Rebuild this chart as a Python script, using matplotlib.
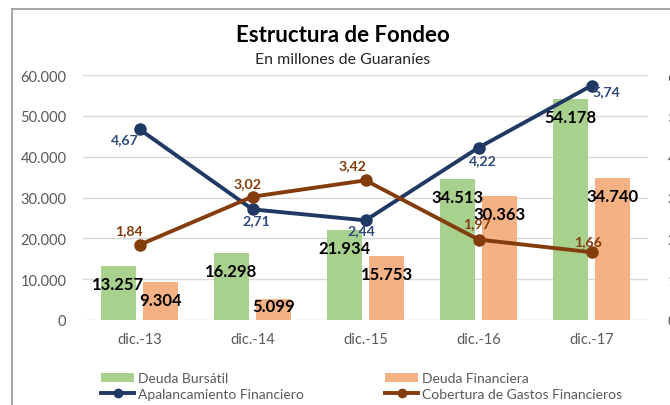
import matplotlib
matplotlib.use("Agg")
import matplotlib.pyplot as plt
from matplotlib.lines import Line2D
from matplotlib.patches import Patch, Rectangle
import numpy as np

# ---- data ----
categories = ["dic.-13", "dic.-14", "dic.-15", "dic.-16", "dic.-17"]
deuda_bursatil = [13257, 16298, 21934, 34513, 54178]
deuda_financiera = [9304, 5099, 15753, 30363, 34740]
apalancamiento = [4.67, 2.71, 2.44, 4.22, 5.74]
cobertura = [1.84, 3.02, 3.42, 1.97, 1.66]
left_ticks = [0, 10000, 20000, 30000, 40000, 50000, 60000]
right_ticks = [0, 1, 2, 3, 4, 5, 6]

# ---- style ----
FONT = "Lato"
plt.rcParams["font.family"] = [FONT, "DejaVu Sans"]
c_green = "#A9D18E"
c_orange = "#F4B183"
c_navy = "#203864"
c_brown = "#843C0C"
c_navy_lbl = "#2F4B7C"
c_tick = "#595959"
c_grid = "#D9D9D9"

W, H = 670, 406
fig = plt.figure(figsize=(W / 100, H / 100), dpi=100)

# chart border (left & top visible, rest cut off)
fig.patches.append(Rectangle((12 / W, -0.05), 1.2, 1 - 10 / H + 0.05,
                             transform=fig.transFigure, fill=False,
                             edgecolor="#A6A6A6", linewidth=1.4))

ax = fig.add_axes([83 / W, (H - 321) / H, (648 - 83) / W, (321 - 76) / H])
ax2 = ax.twinx()

x = np.arange(len(categories))
bw = 0.31
off = 0.19
b1 = ax.bar(x - off, deuda_bursatil, bw, color=c_green, zorder=2)
b2 = ax.bar(x + off, deuda_financiera, bw, color=c_orange, zorder=2)

ax.set_xlim(-0.5, len(categories) - 0.5)
ax.set_ylim(0, 60000)
ax.set_yticks(left_ticks)
ax.set_yticklabels([f"{v:,.0f}".replace(",", ".") for v in left_ticks])
ax.set_xticks(x)
ax.set_xticklabels(categories)
ax.grid(axis="y", color=c_grid, linewidth=1.0, zorder=0)
ax.set_axisbelow(True)
for s in ax.spines.values():
    s.set_visible(False)
for s in ax2.spines.values():
    s.set_visible(False)
ax.tick_params(axis="both", length=0, colors=c_tick, labelsize=10.5)
ax.tick_params(axis="x", pad=9)
ax.tick_params(axis="y", pad=12)

ax2.set_ylim(0, 6)
ax2.set_yticks(right_ticks)
ax2.set_yticklabels([str(v) for v in right_ticks])
ax2.tick_params(axis="y", length=0, colors=c_tick, labelsize=10.5, pad=14)

ax2.plot(x, apalancamiento, color=c_navy, linewidth=2.8, marker="o",
         markersize=8, zorder=5)
ax2.plot(x, cobertura, color=c_brown, linewidth=2.8, marker="o",
         markersize=8, zorder=5)

# bar labels (inside end)
px_per_unit = (321 - 76) / 60000.0
for bars in (b1, b2):
    for rect in bars:
        h = rect.get_height()
        hp = h * px_per_unit
        yc = max(hp - 18, 14) / px_per_unit
        ax.text(rect.get_x() + rect.get_width() / 2, yc,
                f"{h:,.0f}".replace(",", "."), ha="center", va="center",
                fontsize=12, fontweight="bold", color="black", zorder=6)

# line labels
apal_off = [(-15, -10), (4, -11), (-4, -10), (4, -12), (15, -5)]
cob_off = [(-11, 15), (-5, 14), (-13, 15), (-2, 16), (-3, 11)]
for xi, v, (dx, dy) in zip(x, apalancamiento, apal_off):
    ax2.annotate(f"{v:.2f}".replace(".", ","), (xi, v), xytext=(dx, dy),
                 textcoords="offset pixels", ha="center", va="center",
                 fontsize=10.2, fontweight="bold", color=c_navy_lbl, zorder=7)
for xi, v, (dx, dy) in zip(x, cobertura, cob_off):
    ax2.annotate(f"{v:.2f}".replace(".", ","), (xi, v), xytext=(dx, dy),
                 textcoords="offset pixels", ha="center", va="center",
                 fontsize=10.2, fontweight="bold", color=c_brown, zorder=7)

# titles
fig.text(343 / W, 1 - 35 / H, "Estructura de Fondeo", ha="center", va="center",
         fontsize=16, fontweight="bold", color="black")
fig.text(343 / W, 1 - 60 / H, "En millones de Guaraníes", ha="center",
         va="center", fontsize=11.4, color="#262626")

# legend: two columns placed explicitly
leg_kw = dict(loc="center left", frameon=False, fontsize=10,
              labelcolor=c_tick, handlelength=2.4, handleheight=0.55,
              handletextpad=0.25, labelspacing=0.25, borderpad=0,
              borderaxespad=0)
leg1 = fig.legend([Patch(facecolor=c_green, edgecolor="none"),
                   Line2D([], [], color=c_navy, linewidth=2.8, marker="o",
                          markersize=6)],
                  ["Deuda Bursátil", "Apalancamiento Financiero"],
                  bbox_to_anchor=(101 / W, 1 - 387 / H), **leg_kw)
leg2 = fig.legend([Patch(facecolor=c_orange, edgecolor="none"),
                   Line2D([], [], color=c_brown, linewidth=2.8, marker="o",
                          markersize=6)],
                  ["Deuda Financiera", "Cobertura de Gastos Financieros"],
                  bbox_to_anchor=(385 / W, 1 - 387 / H), **leg_kw)

fig.savefig("out.png", dpi=100)
